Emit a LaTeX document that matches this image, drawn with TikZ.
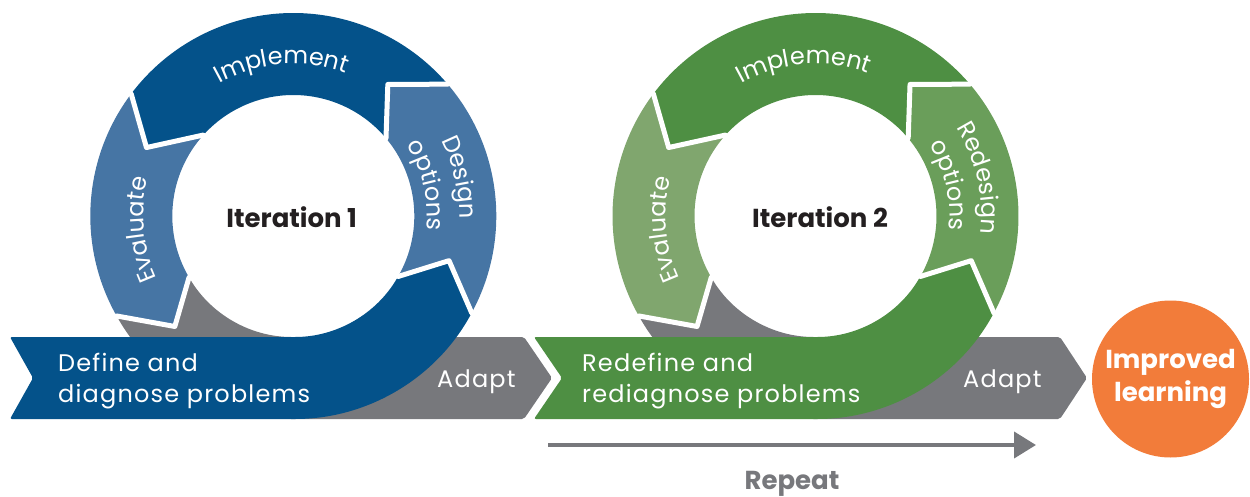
\documentclass[tikz,border=0pt]{standalone}
\usepackage{fontspec}
\setmainfont{Poppins}
\newfontfamily\lsfam{Poppins}[LetterSpace=5]
\usetikzlibrary{decorations.text, arrows.meta}
\definecolor{dkblue}{HTML}{04528A}
\definecolor{ltblue}{HTML}{4675A4}
\definecolor{midgray}{HTML}{77787C}
\definecolor{dkgreen}{HTML}{4E8F43}
\definecolor{ltgreenA}{HTML}{6A9E5A}
\definecolor{ltgreenB}{HTML}{80A66E}
\definecolor{orangeC}{HTML}{F27C3A}
\definecolor{txtblack}{HTML}{231F20}
\newcommand\regfont{\fontsize{24}{30}\selectfont}
\newcommand\lsfont{\lsfam\fontsize{24}{30}\selectfont}
\newcommand\bldfont{\fontsize{26}{32}\selectfont\bfseries}
% color, start outer, start inner, start notch, end outer, end inner, end tip
\newcommand\ringseg[7]{%
  \fill[#1] (#2:203pt) arc[start angle=#2, end angle=#5, radius=203pt]
    -- (#7:162pt) -- (#6:121pt) arc[start angle=#6, end angle=#3, radius=121pt]
    -- (#4:162pt) -- cycle;}
% outer, inner, tip
\newcommand\segsep[3]{%
  \draw[white, line width=5pt, line join=round, line cap=round]
    (#1:212pt) -- (#1:203pt) -- (#3:162pt) -- (#2:121pt) -- (#2:114pt);}
\newcommand\arctext[4]{% radius, start, end, text
  \path[decorate, decoration={text along path, text align=center, text color=white,
    text={|\regfont|#4}}] (#2:#1pt) arc[start angle=#2, end angle=#3, radius=#1pt];}
\tikzset{
  lbl/.style={text=white, font=\lsfont, inner sep=0pt, anchor=base west},
  iter/.style={text=txtblack, font=\bldfont, inner sep=0pt, anchor=base},
}
\begin{document}
\begin{tikzpicture}[x=1pt, y=1pt]
\useasboundingbox (0,0) rectangle (1250,496);
% ---------------- Iteration 1 ----------------
\begin{scope}[shift={(293.3,280)}]
  \fill[midgray, rounded corners=2pt] (209.5:203pt) arc[start angle=209.5, end angle=270, radius=203pt]
     -- (230.7,-203) -- (258.7,-162) -- (230.7,-121) -- (0,-121)
     arc[start angle=270, end angle=210.5, radius=121pt] -- (223:162pt) -- cycle;
  \fill[dkblue, rounded corners=2pt] (-283.3,-121) -- (0,-121)
     arc[start angle=270, end angle=330, radius=121pt] -- (344:162pt) -- (331.5:203pt)
     arc[start angle=331.5, end angle=270, radius=203pt] -- (-283.3,-203) -- (-260.3,-162) -- cycle;
  \ringseg{ltblue}{-28.5}{-30}{-16}{40.5}{40}{54.3}
  \ringseg{dkblue}{40.5}{40}{54.3}{143}{138}{155}
  \ringseg{ltblue}{143}{138}{155}{209.5}{210.5}{223}
  \segsep{-28.5}{-30}{-16}
  \segsep{40.5}{40}{54.3}
  \segsep{143}{138}{155}
  \segsep{209.5}{210.5}{223}
  \arctext{152}{164.5}{24.5}{Implement}
  \arctext{150}{250}{120}{Evaluate}
  \arctext{166}{73}{-47}{Design}
  \arctext{134}{73}{-47}{options}
\end{scope}
% ---------------- Iteration 2 ----------------
\begin{scope}[shift={(815.5,280)}]
  \fill[midgray, rounded corners=2pt] (209.5:203pt) arc[start angle=209.5, end angle=270, radius=203pt]
     -- (244.5,-203) -- (271.5,-162) -- (244.5,-121) -- (0,-121)
     arc[start angle=270, end angle=210.5, radius=121pt] -- (223:162pt) -- cycle;
  \fill[dkgreen, rounded corners=2pt] (-281.5,-121) -- (0,-121)
     arc[start angle=270, end angle=330, radius=121pt] -- (344:162pt) -- (331.5:203pt)
     arc[start angle=331.5, end angle=270, radius=203pt] -- (-281.5,-203) -- (-253.5,-162) -- cycle;
  \ringseg{ltgreenA}{-28.5}{-30}{-16}{40.5}{40}{54.3}
  \ringseg{dkgreen}{40.5}{40}{54.3}{143}{138}{155}
  \ringseg{ltgreenB}{143}{138}{155}{209.5}{210.5}{223}
  \segsep{-28.5}{-30}{-16}
  \segsep{40.5}{40}{54.3}
  \segsep{143}{138}{155}
  \segsep{209.5}{210.5}{223}
  \arctext{152}{164.5}{24.5}{Implement}
  \arctext{150}{250}{120}{Evaluate}
  \arctext{166}{73}{-47}{Redesign}
  \arctext{134}{73}{-47}{options}
\end{scope}
% ---------------- labels ----------------
\node[iter] (it1) at (291.7,268) {Iteration 1};
\node[iter] (it2) at (820,268) {Iteration 2};
\node[lbl] (def1a) at (58,125) {Define and};
\node[lbl] (def1b) at (58,94) {diagnose problems};
\node[lbl] (def2a) at (582,125) {Redefine and};
\node[lbl] (def2b) at (582,94) {rediagnose problems};
\node[lbl] (ad1) at (437,109) {Adapt};
\node[lbl] (ad2) at (963,109) {Adapt};
% ---------------- result ----------------
\node[circle, fill=orangeC, minimum size=157pt, inner sep=0pt, text=white, font=\bldfont, align=center]
  (imp) at (1170.5,117) {Improved\\[1pt]learning};
% ---------------- repeat arrow ----------------
\coordinate (rs) at (548,51);
\coordinate (re) at (1036,51);
\draw[midgray, line width=4pt, -{Triangle[length=22pt,width=26pt]}] (rs) -- (re);
\node[text=midgray, font=\bldfont, inner sep=0pt, anchor=base] (rep) at (792,7) {Repeat};
\end{tikzpicture}
\end{document}
